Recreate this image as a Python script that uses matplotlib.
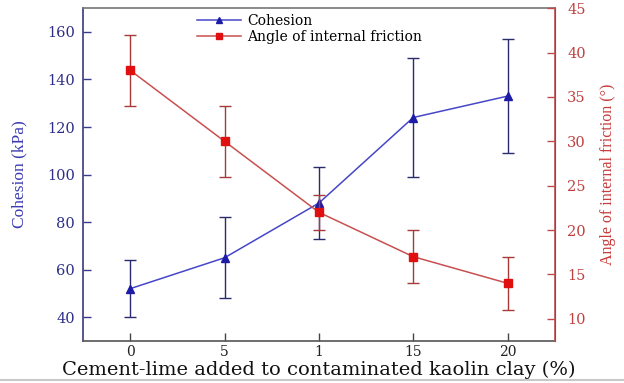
import numpy as np
import matplotlib
matplotlib.use("Agg")
import matplotlib.pyplot as plt
from matplotlib.lines import Line2D

# Cement-lime content (categorical x positions)
dosage = ["0", "5", "1", "15", "20"]

# Cohesion (kPa) with error bar half-widths
cohesion = [52, 65, 88, 124, 133]
cohesion_err = [12, 17, 15, 25, 24]

# Angle of internal friction (deg) with error bar half-widths
friction = [38, 30, 22, 17, 14]
friction_err = [4, 4, 2, 3, 3]

blue_line = "#4646c8"
blue_mark = "#1c1ca8"
blue_err = "#2a2a6e"
red_line = "#c85050"
red_mark = "#e01010"
red_err = "#a83a3a"

fig = plt.figure(figsize=(6.24, 3.83), dpi=100)
ax = fig.add_axes([0.133, 0.1097, 0.756, 0.869])
ax2 = ax.twinx()

x = np.arange(len(dosage))

ax.errorbar(x, cohesion, yerr=cohesion_err, color=blue_line, lw=1.1,
            marker="^", ms=6, mfc=blue_mark, mec=blue_mark,
            ecolor=blue_err, elinewidth=1.0, capsize=4, capthick=1.0,
            label="Cohesion", zorder=3)
ax2.errorbar(x, friction, yerr=friction_err, color=red_line, lw=1.1,
             marker="s", ms=5.5, mfc=red_mark, mec=red_mark,
             ecolor=red_err, elinewidth=1.0, capsize=4, capthick=1.0,
             label="Angle of internal friction", zorder=3)

ax.set_xlim(-0.5, 4.5)
ax.set_ylim(30, 170)
ax2.set_ylim(7.5, 45)
ax.set_xticks(x)
ax.set_xticklabels(dosage)
ax.set_yticks(np.arange(40, 161, 20))
ax2.set_yticks(np.arange(10, 46, 5))

tick_font = "DejaVu Serif"
for lab in ax.get_xticklabels():
    lab.set_fontfamily(tick_font)
    lab.set_fontsize(10)
    lab.set_color("#222222")
for lab in ax.get_yticklabels():
    lab.set_fontfamily(tick_font)
    lab.set_fontsize(10.5)
    lab.set_color("#2e2e8a")
for lab in ax2.get_yticklabels():
    lab.set_fontfamily(tick_font)
    lab.set_fontsize(10.5)
    lab.set_color("#c04040")

ax.tick_params(axis="both", direction="in", length=6, width=1.0)
ax.tick_params(axis="y", color="#3a3a8a", pad=6)
ax.tick_params(axis="x", color="#444444", pad=3)
ax2.tick_params(axis="y", direction="in", length=6, width=1.0,
                color="#c04848", pad=9)

ax.spines["left"].set_color("#3a3a7a")
ax.spines["bottom"].set_color("#555555")
ax.spines["top"].set_color("#777777")
ax2.spines["right"].set_color("#c05050")
for sp in ("left", "bottom", "top"):
    ax.spines[sp].set_linewidth(1.2)
ax2.spines["right"].set_linewidth(1.2)
ax2.spines["left"].set_visible(False)
ax2.spines["top"].set_visible(False)
ax2.spines["bottom"].set_visible(False)

ax.set_xlabel("Cement-lime added to contaminated kaolin clay (%)",
              fontfamily="DejaVu Serif", fontsize=14, color="#111111",
              labelpad=1)
ax.set_ylabel("Cohesion (kPa)", fontfamily="Liberation Serif", fontsize=12.5,
              color="#3a3ab0", labelpad=14)
ax2.set_ylabel("Angle of internal friction (\u00b0)",
               fontfamily="Liberation Serif", fontsize=11.5, color="#c83a3a",
               labelpad=10)

l1 = ax.get_legend_handles_labels()[1]
l2 = ax2.get_legend_handles_labels()[1]
handles = [Line2D([], [], color=blue_line, lw=1.1, marker="^", ms=5,
                  mfc=blue_mark, mec=blue_mark),
           Line2D([], [], color=red_line, lw=1.1, marker="s", ms=5,
                  mfc=red_mark, mec=red_mark)]
ax.legend(handles, l1 + l2, loc="upper left", bbox_to_anchor=(0.215, 1.02),
          frameon=False, handlelength=3.2, handletextpad=0.4,
          labelspacing=0.15, prop={"family": "DejaVu Serif", "size": 10})

# thin rule along the bottom edge
fig.add_artist(Line2D([0, 1], [0.008, 0.008], transform=fig.transFigure,
                      color="#c8c8c8", lw=1.5))

fig.savefig("out.png", dpi=100)
